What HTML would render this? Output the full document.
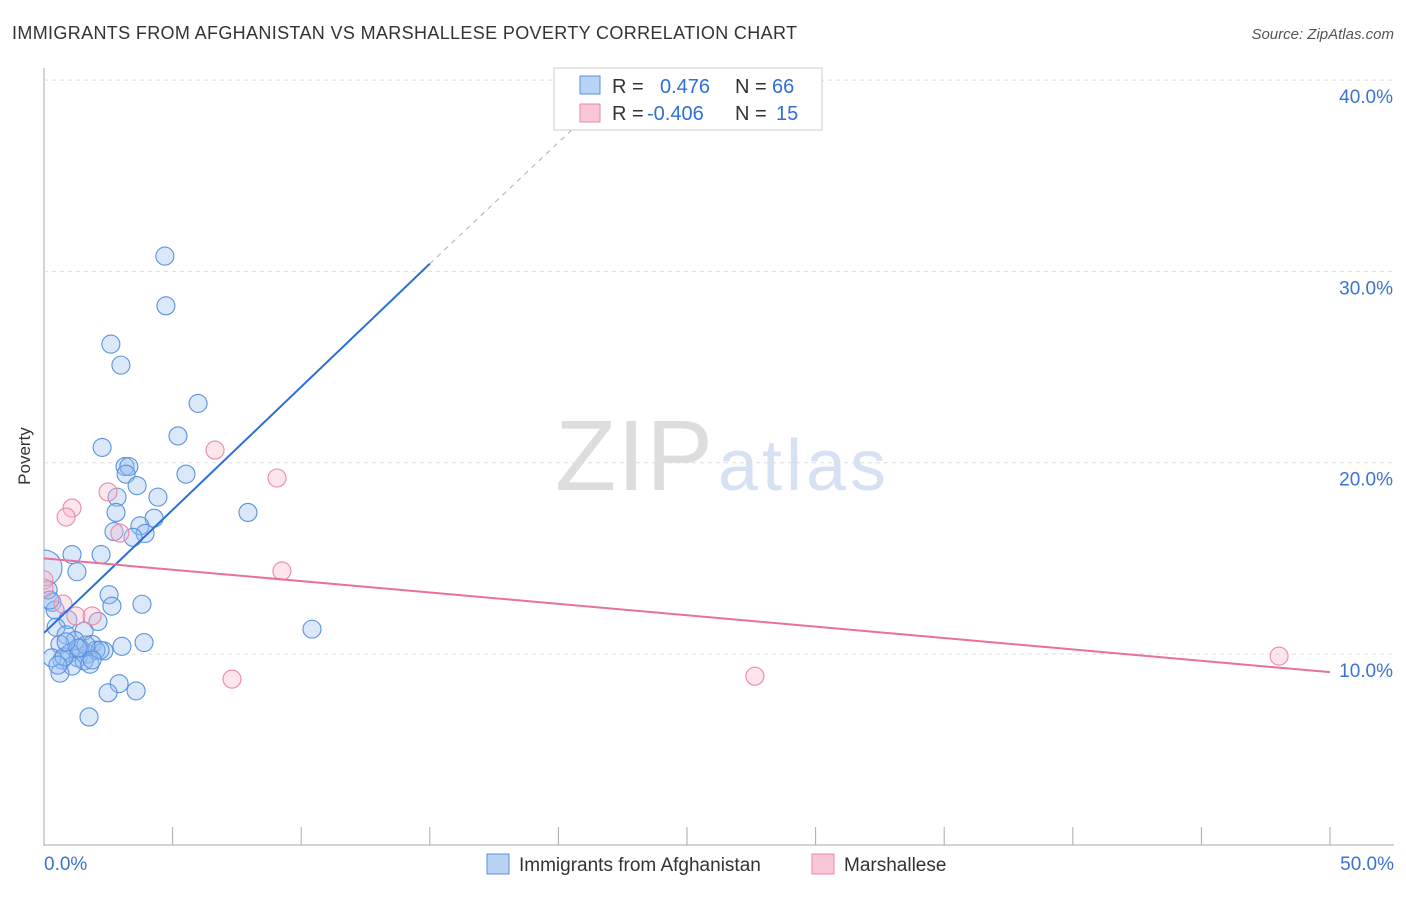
<!DOCTYPE html>
<html><head><meta charset="utf-8"><style>
body{margin:0;background:#fff;font-family:"Liberation Sans",sans-serif}
svg text{font-family:"Liberation Sans",sans-serif}
</style></head><body>
<svg id="c" width="1406" height="892" xmlns="http://www.w3.org/2000/svg">
<defs><clipPath id="plot"><rect x="44" y="60" width="1360" height="786"/></clipPath></defs>
<text x="12" y="39" font-size="18" fill="#333" textLength="785">IMMIGRANTS FROM AFGHANISTAN VS MARSHALLESE POVERTY CORRELATION CHART</text>
<text x="1394" y="39" font-size="15" fill="#555" font-style="italic" text-anchor="end">Source: ZipAtlas.com</text>
<text x="30" y="456" font-size="17" fill="#333" transform="rotate(-90 30 456)" text-anchor="middle">Poverty</text>
<text x="555" y="490" font-size="100" fill="#ddd" font-family="Liberation Serif" textLength="158">ZIP</text>
<text x="718" y="490" font-size="72" fill="#d6e2f3" textLength="168">atlas</text>
<g id="grid"></g><g id="marks" clip-path="url(#plot)"></g>
<g>
<rect x="554" y="68" width="268" height="62" fill="#fff" stroke="#ccc"/>
<rect x="580" y="76" width="20" height="18" fill="#b9d3f5" stroke="#5b92dd"/>
<rect x="580" y="104" width="20" height="18" fill="#f9c6d5" stroke="#e88aa8"/>
<text x="612" y="93" font-size="20" fill="#333">R = <tspan fill="#2f6fd6" x="660">0.476</tspan><tspan x="735" fill="#333">N = </tspan><tspan fill="#2f6fd6" x="772">66</tspan></text>
<text x="612" y="120" font-size="20" fill="#333">R = <tspan fill="#2f6fd6" x="647">-0.406</tspan><tspan x="735" fill="#333">N = </tspan><tspan fill="#2f6fd6" x="776">15</tspan></text>
</g>
<g>
<rect x="487" y="854" width="22" height="20" fill="#b9d3f5" stroke="#5b92dd"/>
<text x="519" y="871" font-size="19" fill="#333">Immigrants from Afghanistan</text>
<rect x="812" y="854" width="22" height="20" fill="#f9c6d5" stroke="#e88aa8"/>
<text x="844" y="871" font-size="19" fill="#333">Marshallese</text>
</g>
</svg>
<script>
const xTicks=[0,5,10,15,20,25,30,35,40,45,50];
const yTicks=[10,20,30,40];
const blueX=[4.7,4.74,2.6,2.99,5.99,5.21,2.26,3.15,3.3,3.19,5.52,3.62,2.84,4.43,7.93,2.8,4.28,3.73,2.72,3.93,3.46,1.09,2.22,1.28,0,2.53,0.31,2.64,3.81,0.43,0.93,2.1,0.47,1.56,0.86,10.42,1.21,1.87,3.89,3.03,2.33,0.62,1.01,1.71,2.02,2.18,1.32,1.56,0.7,1.79,0.31,1.09,0.62,2.92,2.49,3.58,1.75,0.16,0.23,1.4,1.63,0.78,1.87,0.54,1.32,0.86];
const blueY=[30.8,28.2,26.2,25.1,23.1,21.4,20.8,19.8,19.8,19.4,19.4,18.8,18.2,18.2,17.4,17.4,17.1,16.7,16.4,16.3,16.1,15.2,15.2,14.3,14.5,13.1,12.7,12.5,12.6,12.3,11.8,11.7,11.4,11.2,11.0,11.3,10.7,10.5,10.6,10.4,10.16,10.5,10.05,10.0,10.2,10.2,9.8,9.64,9.69,9.47,9.8,9.37,9.0,8.45,7.97,8.07,6.71,13.35,12.82,10.31,10.47,9.85,9.69,9.42,10.31,10.63];
const pinkX=[6.65,9.06,2.49,1.09,0.86,2.95,9.25,0,0,0.74,1.24,1.87,7.31,27.64,48.02];
const pinkY=[20.66,19.2,18.47,17.63,17.16,16.32,14.34,13.87,13.45,12.61,11.99,11.99,8.69,8.84,9.89];
const blueLine=[[0,11.1],[15,30.4]], blueDash=[[15,30.4],[20.6,37.5]];
const pinkLine=[[0,15.0],[50,9.05]];
const X=v=>44+v*25.72, Y=v=>845.3-v*19.13;
const NS='http://www.w3.org/2000/svg';
const grid=document.getElementById('grid'), marks=document.getElementById('marks');
function mk(tag,attrs,parent){const e=document.createElementNS(NS,tag);for(const k in attrs)e.setAttribute(k,attrs[k]);parent.appendChild(e);return e;}
let ax=mk('line',{x1:44,y1:68,x2:44,y2:846,stroke:'#aaa'},grid);


let bx=mk('line',{x1:44,y1:845,x2:1394,y2:845,stroke:'#aaa'},grid);


yTicks.forEach(t=>{
 const g=mk('line',{x1:44,y1:Y(t),x2:1394,y2:Y(t),stroke:'#ddd','stroke-dasharray':'4,4'},grid);
 
 
 const tx=mk('text',{x:1393,y:Y(t)+23,'font-size':19,fill:'#3b73d1','text-anchor':'end'},grid);
 tx.textContent=t.toFixed(1)+'%';
 
 
});
xTicks.forEach(t=>{
 const l=mk('line',{x1:X(t),y1:827,x2:X(t),y2:845,stroke:'#aaa'},grid);
 
 
});
[[0,'start',44],[50,'end',1394]].forEach(([t,a,px])=>{
 const tx=mk('text',{x:px,y:870,'font-size':19,fill:'#3b73d1','text-anchor':a},grid);
 tx.textContent=t.toFixed(1)+'%';
 
 
});
blueX.forEach((v,i)=>{
 const c=mk('circle',{cx:X(v),cy:Y(blueY[i]),r:(v===0&&blueY[i]>14)?18:9,fill:'rgba(150,190,240,0.35)',stroke:'#5b92dd','stroke-width':1.1},marks);
 
 
});
pinkX.forEach((v,i)=>{
 const c=mk('circle',{cx:X(v),cy:Y(pinkY[i]),r:9,fill:'rgba(248,180,200,0.35)',stroke:'#e88aa8','stroke-width':1.1},marks);
 
 
});
let l1=mk('line',{x1:X(blueLine[0][0]),y1:Y(blueLine[0][1]),x2:X(blueLine[1][0]),y2:Y(blueLine[1][1]),stroke:'#2a6fd8','stroke-width':2},marks);


let l2=mk('line',{x1:X(blueDash[0][0]),y1:Y(blueDash[0][1]),x2:X(blueDash[1][0]),y2:Y(blueDash[1][1]),stroke:'#aac','stroke-width':1,'stroke-dasharray':'5,5'},marks);


let l3=mk('line',{x1:X(pinkLine[0][0]),y1:Y(pinkLine[0][1]),x2:X(pinkLine[1][0]),y2:Y(pinkLine[1][1]),stroke:'#e8709a','stroke-width':2},marks);


</script>
</body></html>
